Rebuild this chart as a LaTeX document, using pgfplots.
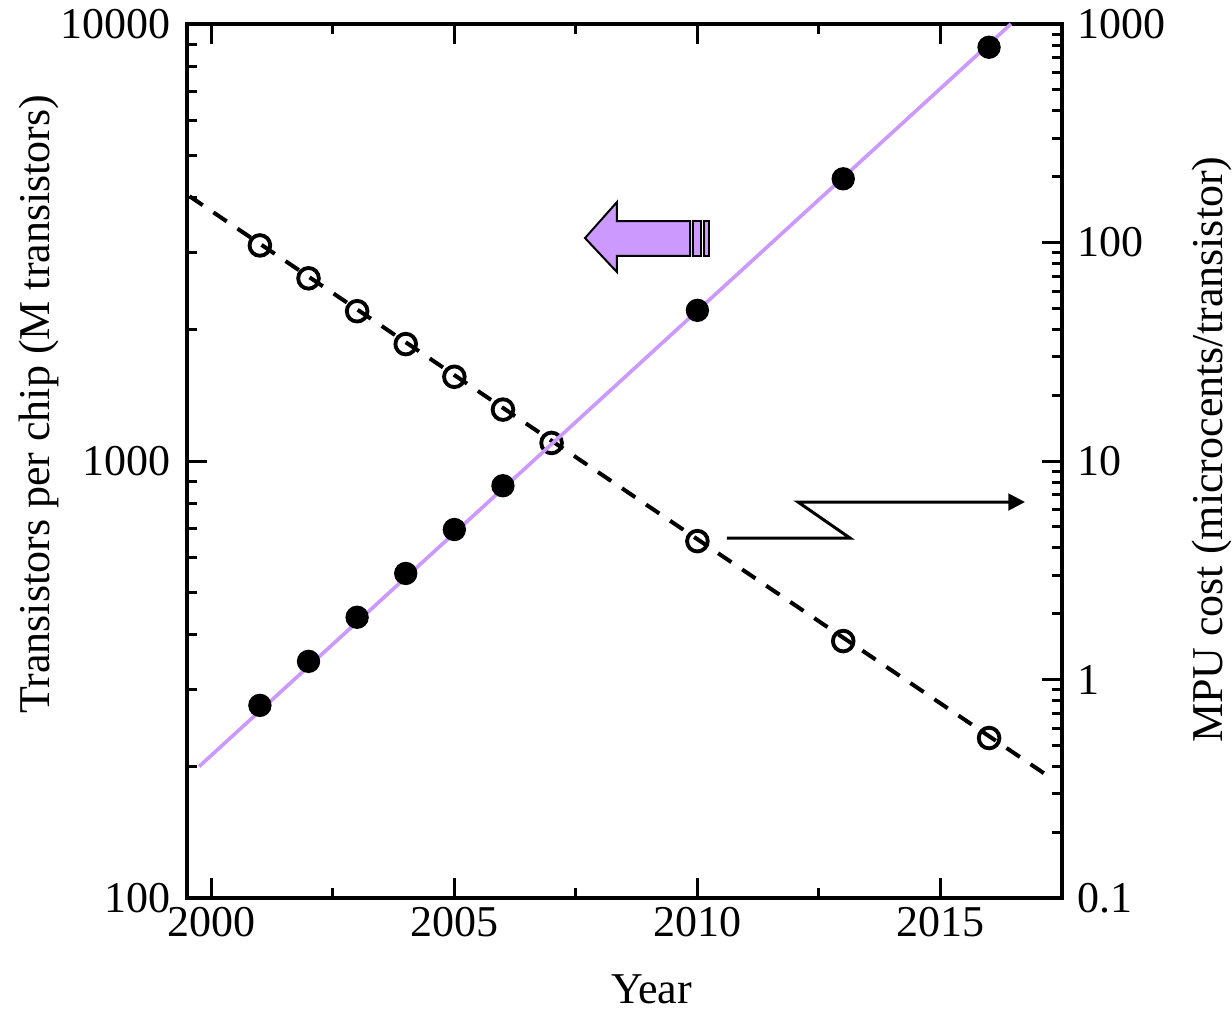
\documentclass[border=0pt]{standalone}
\usepackage{pgfplots}
\pgfplotsset{compat=1.18}
\usepackage{fontspec}
\setmainfont{Liberation Serif}
\usetikzlibrary{arrows.meta}
\definecolor{lav}{RGB}{204,153,255}
\newcommand{\fs}{\fontsize{13.2}{16}\selectfont}

\begin{document}
\begin{tikzpicture}
% right axis: MPU cost
\begin{axis}[
    width=262.5pt, height=262.2pt, scale only axis,
    xmin=1999.5, xmax=2017.5,
    ymode=log,
    tick align=inside,
    axis line style={line width=1.2pt},
    tick style={black, line width=0.9pt},
    major tick length=6pt, minor tick length=3pt,
    tick label style={font=\fs},
    label style={font=\fs},
    clip=false,
    axis y line*=right, axis x line=none,
    ymin=0.1, ymax=1000,
    ytick={0.1,1,10,100,1000}, yticklabels={0.1,1,10,100,1000},
    minor ytick={0.2,0.3,0.4,0.5,0.6,0.7,0.8,0.9,2,3,4,5,6,7,8,9,20,30,40,50,60,70,80,90,200,300,400,500,600,700,800,900},
    yticklabel style={inner sep=0pt, xshift=4.5pt},
    ylabel={MPU cost (microcents/transistor)},
    ylabel style={at={(axis description cs:1.171,0.513)}, anchor=center},
]
% fit line
\addplot[black, line width=1.2pt, dash pattern=on 4.8pt off 3.9pt]
    coordinates {(1999.55,163) (2017.22,0.361)};
\addplot[only marks, black, mark=o, mark size=3.1pt, mark options={line width=1.15pt, solid}]
    coordinates {
        (2001,97) (2002,68.6) (2003,48.5) (2004,34.3) (2005,24.3)
        (2006,17.2) (2007,12.1) (2010,4.3) (2013,1.5) (2016,0.54)
    };
\end{axis}

% left axis: transistors per chip
\begin{axis}[
    width=262.5pt, height=262.2pt, scale only axis,
    xmin=1999.5, xmax=2017.5,
    ymode=log,
    tick align=inside,
    axis line style={line width=1.2pt},
    tick style={black, line width=0.9pt},
    major tick length=6pt, minor tick length=3pt,
    tick label style={font=\fs},
    label style={font=\fs},
    clip=false,
    ymin=100, ymax=10000,
    ytick={100,1000,10000}, yticklabels={100,1000,10000},
    minor ytick={200,300,400,500,600,700,800,900,2000,3000,4000,5000,6000,7000,8000,9000},
    ytick pos=left,
    xtick={2000,2005,2010,2015}, xticklabels={2000,2005,2010,2015},
    minor xtick={2002.5,2007.5,2012.5},
    xtick pos=both, xticklabel pos=lower,
    yticklabel style={inner sep=0pt, xshift=-4.6pt},
    xticklabel style={inner sep=0pt, yshift=-2.7pt},
    ylabel={Transistors per chip (M transistors)},
    ylabel style={at={(axis description cs:-0.169,0.565)}, anchor=center},
    xlabel={Year},
    xlabel style={at={(axis description cs:0.531,-0.105)}, anchor=center},
]
\addplot[only marks, mark=*, mark size=3.3pt, mark options={fill=black, draw=black, line width=0.4pt}]
    coordinates {
        (2001,276) (2002,348) (2003,439) (2004,553) (2005,697)
        (2006,878) (2010,2212) (2013,4424) (2016,8848)
    };
\addplot[lav, line width=1.1pt] coordinates {(1999.75,200) (2016.45,10000)};

% block arrow pointing to the left axis
\draw[fill=lav, line width=0.6pt, line join=miter]
    (rel axis cs:0.4549,0.7551) -- (rel axis cs:0.4914,0.7963) -- (rel axis cs:0.4914,0.7746)
    -- (rel axis cs:0.5749,0.7746) -- (rel axis cs:0.5749,0.7346) -- (rel axis cs:0.4914,0.7346)
    -- (rel axis cs:0.4914,0.7162) -- cycle;
\draw[fill=lav, line width=0.6pt] (rel axis cs:0.5783,0.7746) rectangle (rel axis cs:0.5874,0.7346);
\draw[fill=lav, line width=0.6pt] (rel axis cs:0.5909,0.7746) rectangle (rel axis cs:0.5966,0.7346);

% zigzag arrow pointing to the right axis
\draw[line width=0.9pt, -{Triangle[length=5pt,width=5pt]}]
    (rel axis cs:0.6171,0.4119) -- (rel axis cs:0.7577,0.4119)
    -- (rel axis cs:0.6983,0.4531) -- (rel axis cs:0.9577,0.4531);

\coordinate (bbsw) at (rel axis cs:-0.2137,-0.1281);
\coordinate (bbne) at (rel axis cs:1.1943,1.0275);
\end{axis}
\pgfresetboundingbox
\path[use as bounding box] (bbsw) rectangle (bbne);
\end{tikzpicture}
\end{document}
